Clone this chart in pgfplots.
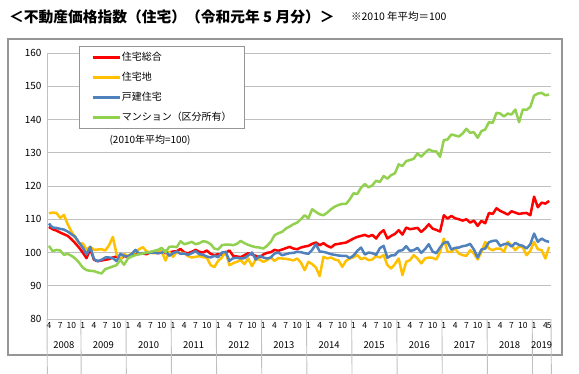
\documentclass[border=0pt]{standalone}
\usepackage{fontspec}
\setmainfont{Noto Sans CJK JP}
\usepackage{pgfplots}
\usepackage{pgfplotstable}
\pgfplotsset{compat=1.18}
\definecolor{cR}{RGB}{255,0,0}
\definecolor{cY}{RGB}{255,192,0}
\definecolor{cB}{RGB}{79,129,189}
\definecolor{cG}{RGB}{146,208,80}
\definecolor{gridc}{RGB}{192,192,192}
\definecolor{framec}{RGB}{150,150,150}
\pgfplotstableread{
i r y b g
0 107.7 111.8 108.7 102.0
1 107.0 112.0 107.5 100.4
2 106.6 111.9 107.4 100.8
3 106.0 110.4 107.1 100.6
4 105.5 111.3 106.9 99.3
5 105.0 108.5 106.3 99.6
6 104.0 106.3 105.5 99.0
7 102.8 104.6 104.7 98.2
8 101.5 102.8 103.0 97.0
9 100.0 102.7 101.5 95.5
10 98.3 100.9 99.4 94.7
11 101.0 101.7 101.7 94.5
12 97.8 100.8 98.0 94.4
13 97.4 100.9 97.4 94.0
14 97.6 101.0 97.8 93.7
15 97.8 100.6 98.5 95.0
16 98.0 102.2 98.5 95.4
17 98.5 104.7 98.3 95.8
18 98.8 99.5 97.4 96.2
19 98.0 97.8 99.6 97.8
20 99.0 99.6 99.0 96.3
21 98.6 98.9 98.8 98.2
22 99.2 99.7 99.5 98.8
23 99.8 100.1 100.8 99.2
24 99.6 101.0 99.6 99.5
25 99.7 101.6 99.8 99.7
26 99.5 100.3 99.9 100.0
27 100.1 99.9 100.0 100.2
28 100.0 99.8 100.0 100.5
29 99.8 100.5 99.8 100.8
30 100.2 100.3 99.9 101.4
31 99.8 97.6 100.6 100.0
32 100.0 100.2 99.0 101.7
33 100.3 98.7 99.8 101.8
34 100.4 100.2 100.3 101.6
35 101.1 99.9 99.6 103.4
36 100.0 99.8 99.7 102.5
37 99.8 98.9 99.3 102.8
38 100.2 98.5 99.8 103.2
39 100.8 98.7 100.4 102.5
40 100.2 98.9 99.5 102.8
41 100.0 98.6 99.3 103.4
42 100.6 98.4 98.8 103.2
43 99.6 96.2 98.5 102.5
44 99.2 95.6 99.0 101.2
45 99.5 97.5 98.6 100.9
46 99.3 98.5 100.0 102.2
47 100.0 100.2 100.2 102.4
48 100.6 96.2 97.5 102.4
49 99.0 96.8 98.3 102.2
50 98.8 97.2 98.4 102.6
51 98.6 97.7 98.2 103.5
52 99.2 96.5 98.3 102.8
53 99.8 98.2 99.1 102.3
54 99.4 95.9 100.0 101.9
55 99.0 97.9 97.9 101.6
56 98.5 97.9 99.0 101.5
57 99.4 97.2 98.5 101.2
58 99.9 97.7 98.2 102.0
59 100.1 98.5 98.5 103.2
60 100.8 97.5 99.7 105.2
61 100.5 98.3 100.0 105.8
62 100.9 98.2 99.2 106.2
63 101.3 98.1 99.5 107.2
64 101.7 97.9 99.8 107.8
65 101.2 97.6 99.9 108.5
66 101.0 98.2 100.2 109.0
67 101.5 97.0 100.1 110.0
68 101.8 94.7 99.8 111.2
69 102.0 97.2 99.6 110.3
70 102.6 96.5 100.8 113.0
71 103.0 95.5 102.5 112.2
72 102.2 92.9 100.3 111.5
73 102.8 98.7 100.2 111.2
74 102.0 98.2 99.9 112.0
75 101.5 98.5 99.5 113.0
76 102.4 97.9 99.3 113.8
77 102.6 97.6 99.1 114.3
78 102.8 95.7 99.0 114.6
79 103.0 97.5 99.0 114.6
80 103.6 98.2 98.3 116.0
81 104.2 98.6 99.1 117.8
82 104.7 99.2 100.5 117.6
83 105.0 98.0 101.5 119.5
84 105.3 98.4 99.4 120.6
85 104.8 97.7 100.0 119.6
86 105.3 97.9 99.8 120.2
87 104.2 98.9 99.3 121.6
88 105.8 98.5 101.3 121.2
89 106.7 99.2 102.0 123.0
90 104.2 96.2 98.4 122.2
91 105.0 95.2 99.1 123.3
92 105.6 96.5 99.2 123.8
93 106.7 98.2 100.5 126.5
94 105.4 93.2 100.7 126.0
95 107.5 97.2 101.9 127.5
96 107.0 97.7 100.5 127.8
97 107.2 99.2 100.7 128.2
98 107.4 98.2 101.4 129.8
99 106.2 96.7 99.9 128.8
100 107.2 98.2 101.0 130.0
101 108.5 98.5 102.5 131.0
102 107.2 98.4 100.3 130.5
103 106.8 97.9 99.8 130.4
104 106.3 100.2 101.5 128.8
105 111.2 104.2 102.9 133.8
106 110.2 100.2 103.2 134.0
107 111.0 100.2 100.9 135.5
108 110.3 101.2 101.4 135.2
109 110.0 99.7 101.5 134.9
110 109.6 99.2 101.9 135.8
111 110.0 99.0 102.1 137.2
112 109.0 100.7 102.6 136.0
113 109.6 99.7 100.9 136.2
114 108.0 97.9 98.5 134.5
115 109.5 100.2 100.9 136.5
116 108.8 103.2 101.2 137.0
117 111.9 101.2 103.1 139.2
118 111.6 100.7 103.5 139.0
119 113.3 101.2 103.6 142.0
120 112.5 101.2 102.0 141.8
121 112.0 100.2 102.5 140.9
122 111.4 103.2 102.7 141.8
123 112.4 102.2 101.8 141.5
124 112.0 100.7 102.9 143.0
125 111.6 101.9 102.3 139.2
126 111.8 101.5 102.0 143.0
127 111.9 99.2 101.2 142.9
128 111.2 100.5 102.5 143.8
129 116.8 103.2 105.7 147.2
130 113.6 101.0 103.2 147.8
131 115.0 100.7 104.2 148.0
132 114.7 98.2 103.5 147.3
133 115.5 101.7 103.2 147.5
}\datatable
\begin{document}
\begin{tikzpicture}[x=1bp,y=1bp]
\useasboundingbox (0,0) rectangle (579,373);
\draw[framec, line width=1.2bp] (8,18) rectangle (562,334);
\node[anchor=west, font=\fontsize{14.8}{15}\selectfont\bfseries, inner sep=0] at (9,356) {＜不動産価格指数（住宅）（令和元年 5 月分）＞};
\node[anchor=west, font=\fontsize{10.5}{11}\selectfont, inner sep=0] at (351,356) {※2010 年平均＝100};
\begin{axis}[
  at={(47bp,54bp)}, anchor=south west,
  width=504bp, height=266bp, scale only axis,
  xmin=-0.5, xmax=133.5, ymin=80, ymax=160,
  ytick={80,90,...,160},
  xtick={0,3,6,9,12,15,18,21,24,27,30,33,36,39,42,45,48,51,54,57,60,63,66,69,72,75,78,81,84,87,90,93,96,99,102,105,108,111,114,117,120,123,126,129,132,133},
  xticklabels={4,7,10,1,4,7,10,1,4,7,10,1,4,7,10,1,4,7,10,1,4,7,10,1,4,7,10,1,4,7,10,1,4,7,10,1,4,7,10,1,4,7,10,1,4,5},
  major tick length=0,
  axis x line*=bottom, axis y line*=left,
  axis line style={gridc, line width=0.9bp, -},
  ymajorgrids, grid style={gridc, line width=0.9bp},
  /pgf/number format/assume math mode=true,
  xticklabel style={font=\fontsize{8.5}{9}\selectfont, text height=6.5bp, text depth=0bp, inner sep=2.5bp},
  yticklabel style={font=\fontsize{10}{10}\selectfont, xshift=-2bp},
  clip=false,
  legend style={at={(axis description cs:0.0635,1.026)}, anchor=north west,
    draw=framec, line width=0.9bp, font=\fontsize{10}{10}\selectfont,
    row sep=10bp, inner xsep=12bp, inner ysep=6bp,
    nodes={text height=8bp, text depth=2bp, inner ysep=0bp, inner xsep=1bp},
    cells={anchor=west}},
  legend image code/.code={\draw[#1, line width=2.5bp] (0bp,0bp) -- (27bp,0bp);},
  every axis plot/.append style={line width=2.5bp, line join=round},
]
\addplot[cR] table[x=i, y=r] {\datatable};
\addplot[cY] table[x=i, y=y] {\datatable};
\addplot[cB] table[x=i, y=b] {\datatable};
\addplot[cG] table[x=i, y=g] {\datatable};
\legend{住宅総合,住宅地,戸建住宅,マンション（区分所有）\hspace{6bp}}
\pgfplotsinvokeforeach{-0.5,8.5,20.5,32.5,44.5,56.5,68.5,80.5,92.5,104.5,116.5,128.5,133.5}{
  \draw[gridc, line width=0.9bp] (axis cs:#1,80) -- ++(0,-33bp);
}
\node[font=\fontsize{9.5}{10}\selectfont] at ([yshift=-26bp]axis cs:4,80) {2008};
\node[font=\fontsize{9.5}{10}\selectfont] at ([yshift=-26bp]axis cs:14.5,80) {2009};
\node[font=\fontsize{9.5}{10}\selectfont] at ([yshift=-26bp]axis cs:26.5,80) {2010};
\node[font=\fontsize{9.5}{10}\selectfont] at ([yshift=-26bp]axis cs:38.5,80) {2011};
\node[font=\fontsize{9.5}{10}\selectfont] at ([yshift=-26bp]axis cs:50.5,80) {2012};
\node[font=\fontsize{9.5}{10}\selectfont] at ([yshift=-26bp]axis cs:62.5,80) {2013};
\node[font=\fontsize{9.5}{10}\selectfont] at ([yshift=-26bp]axis cs:74.5,80) {2014};
\node[font=\fontsize{9.5}{10}\selectfont] at ([yshift=-26bp]axis cs:86.5,80) {2015};
\node[font=\fontsize{9.5}{10}\selectfont] at ([yshift=-26bp]axis cs:98.5,80) {2016};
\node[font=\fontsize{9.5}{10}\selectfont] at ([yshift=-26bp]axis cs:110.5,80) {2017};
\node[font=\fontsize{9.5}{10}\selectfont] at ([yshift=-26bp]axis cs:122.5,80) {2018};
\node[font=\fontsize{9.5}{10}\selectfont] at ([yshift=-26bp]axis cs:131,80) {2019};
\node[font=\fontsize{10}{10}\selectfont] at (axis cs:26.9,133.8) {(2010年平均=100)};
\end{axis}
\end{tikzpicture}
\end{document}
